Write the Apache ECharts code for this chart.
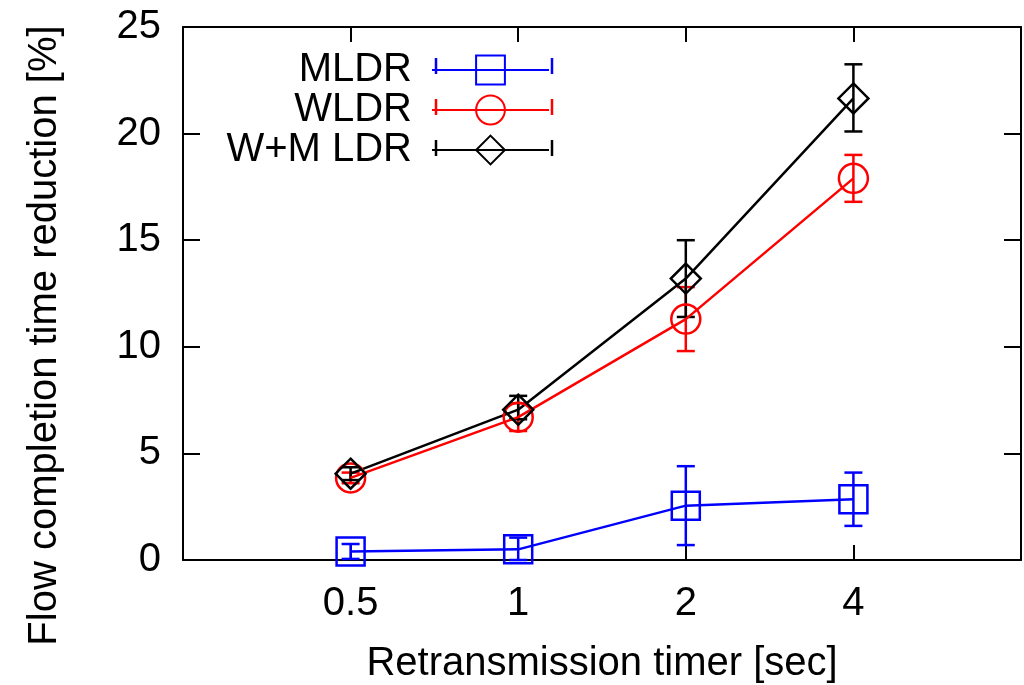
<!DOCTYPE html>
<html>
<head>
<meta charset="utf-8">
<script src="https://cdn.jsdelivr.net/npm/echarts@6/dist/echarts.min.js"></script>
<style>
  html, body { margin: 0; padding: 0; background: #fff; }
  #main { width: 1024px; height: 685px; }
</style>
</head>
<body>
<div id="main"></div>
<script>
// retransmission timer values (categories on the x axis)
var timers = ['0.5', '1', '2', '4'];

var mldr = [0.4, 0.5, 2.55, 2.85];
var mldrLow = [0.05, 0.0, 0.7, 1.6];
var mldrHigh = [0.75, 1.05, 4.4, 4.1];

var wldr = [3.85, 6.7, 11.3, 17.9];
var wldrLow = [3.6, 6.05, 9.8, 16.8];
var wldrHigh = [4.1, 7.35, 12.8, 19.0];

var wmldr = [4.05, 7.05, 13.2, 21.65];
var wmldrLow = [3.75, 6.6, 11.4, 20.1];
var wmldrHigh = [4.35, 7.7, 15.0, 23.25];

var FONT = 'Liberation Sans';
var FS = 40;
var LW = 2.5;

function points(vals) {
  return vals.map(function (v, i) { return [i + 1, v]; });
}
function errs(lo, hi) {
  return lo.map(function (v, i) { return [i + 1, v, hi[i]]; });
}

// vertical error bar with caps, gnuplot style
function renderErr(params, api) {
  var x = api.value(0);
  var lo = api.coord([x, api.value(1)]);
  var hi = api.coord([x, api.value(2)]);
  var w = 9;
  var style = { stroke: api.visual('color'), lineWidth: LW };
  return {
    type: 'group',
    children: [
      { type: 'line', shape: { x1: lo[0], y1: lo[1], x2: hi[0], y2: hi[1] }, style: style },
      { type: 'line', shape: { x1: lo[0] - w, y1: lo[1], x2: lo[0] + w, y2: lo[1] }, style: style },
      { type: 'line', shape: { x1: hi[0] - w, y1: hi[1], x2: hi[0] + w, y2: hi[1] }, style: style }
    ]
  };
}

function lineSeries(name, vals, color, symbol, size) {
  return {
    name: name,
    type: 'line',
    data: points(vals),
    symbol: symbol,
    symbolSize: size,
    showAllSymbol: true,
    lineStyle: { color: color, width: LW },
    itemStyle: { color: 'rgba(0,0,0,0)', borderColor: color, borderWidth: LW },
    emphasis: { disabled: true },
    animation: false
  };
}

function errSeries(name, lo, hi, color) {
  return {
    name: name,
    type: 'custom',
    renderItem: renderErr,
    data: errs(lo, hi),
    itemStyle: { color: color },
    encode: { x: 0, y: [1, 2] },
    animation: false,
    silent: true
  };
}

// small end caps on the legend samples
function legendCaps(color, y) {
  var st = { stroke: color, lineWidth: LW };
  return [
    { type: 'line', shape: { x1: 436, y1: y - 8, x2: 436, y2: y + 8 }, style: st },
    { type: 'line', shape: { x1: 552, y1: y - 8, x2: 552, y2: y + 8 }, style: st }
  ];
}

var chart = echarts.init(document.getElementById('main'), null, { renderer: 'canvas' });

var axisLine = { show: true, onZero: false, lineStyle: { color: '#000', width: 2 } };
var tickStyle = { color: '#000', width: 2 };

var option = {
  backgroundColor: '#fff',
  animation: false,
  grid: { left: 183, right: 3, top: 27, bottom: 125, outerBoundsMode: 'none', containLabel: false },
  legend: {
    data: ['MLDR', 'WLDR', 'W+M LDR'],
    orient: 'vertical',
    align: 'right',
    right: 469,
    top: 45,
    itemWidth: 117,
    itemHeight: 36,
    itemGap: 0,
    selectedMode: false,
    textStyle: { fontFamily: FONT, fontSize: FS, color: '#000', padding: [0, 15, 0, 0] }
  },
  graphic: [].concat(
    legendCaps('#0000ff', 66),
    legendCaps('#ff0000', 107),
    legendCaps('#000000', 148)
  ),
  xAxis: [{
    type: 'value',
    min: 0, max: 5, interval: 1,
    axisLine: axisLine,
    splitLine: { show: false },
    axisTick: { inside: true, length: 15, lineStyle: tickStyle },
    axisLabel: {
      margin: 24,
      fontFamily: FONT, fontSize: FS, color: '#000',
      formatter: function (v) { return timers[v - 1] || ''; }
    },
    name: 'Retransmission timer [sec]',
    nameLocation: 'middle',
    nameGap: 84,
    nameTextStyle: { fontFamily: FONT, fontSize: FS, color: '#000' }
  }, {
    type: 'value',
    position: 'top',
    min: 0, max: 5, interval: 1,
    axisLine: axisLine,
    splitLine: { show: false },
    axisTick: { inside: true, length: 15, lineStyle: tickStyle },
    axisLabel: { show: false }
  }],
  yAxis: [{
    type: 'value',
    min: 0, max: 25, interval: 5,
    axisLine: axisLine,
    splitLine: { show: false },
    axisTick: { inside: true, length: 17, lineStyle: tickStyle },
    axisLabel: { margin: 22, fontFamily: FONT, fontSize: FS, color: '#000' },
    name: 'Flow completion time reduction [%]',
    nameLocation: 'middle',
    nameGap: 118,
    nameTextStyle: { fontFamily: FONT, fontSize: FS, color: '#000', padding: [0, 84, 0, 0] }
  }, {
    type: 'value',
    position: 'right',
    min: 0, max: 25, interval: 5,
    axisLine: axisLine,
    splitLine: { show: false },
    axisTick: { inside: true, length: 17, lineStyle: tickStyle },
    axisLabel: { show: false }
  }],
  series: [
    errSeries('MLDR err', mldrLow, mldrHigh, '#0000ff'),
    lineSeries('MLDR', mldr, '#0000ff', 'rect', 28),
    errSeries('WLDR err', wldrLow, wldrHigh, '#ff0000'),
    lineSeries('WLDR', wldr, '#ff0000', 'circle', 29),
    errSeries('W+M LDR err', wmldrLow, wmldrHigh, '#000000'),
    lineSeries('W+M LDR', wmldr, '#000000', 'diamond', 30)
  ]
};

chart.setOption(option);
</script>
</body>
</html>
